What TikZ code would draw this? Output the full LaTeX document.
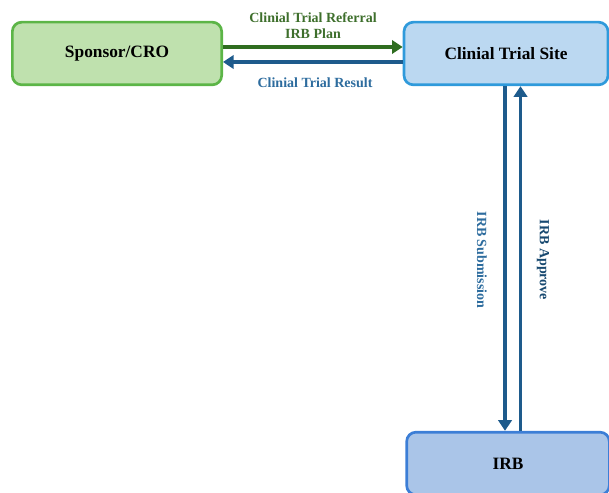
\documentclass[tikz,border=0pt]{standalone}
\usepackage{fontspec}
\setmainfont{Liberation Serif}
\usetikzlibrary{arrows.meta}
\definecolor{sponsorfill}{HTML}{BFE1AE}
\definecolor{sponsorline}{HTML}{5CB547}
\definecolor{sitefill}{HTML}{BBD8F1}
\definecolor{siteline}{HTML}{2F9ADB}
\definecolor{irbfill}{HTML}{AAC5E8}
\definecolor{irbline}{HTML}{3C7ED6}
\definecolor{greenarrow}{HTML}{2F6D20}
\definecolor{bluearrow}{HTML}{1E5B8C}
\definecolor{greenlabel}{HTML}{3E6F2C}
\definecolor{bluelabel}{HTML}{2D6C9E}
\tikzset{
    box/.style={draw,line width=2pt,rounded corners=7pt,inner sep=0pt,minimum height=47pt,font=\fontsize{13}{15}\selectfont\bfseries},
    flow/.style={line width=2.8pt,-{Triangle[length=8pt,width=10pt]}},
    lbl/.style={font=\fontsize{10.5}{12}\selectfont\bfseries}
}
\begin{document}
\begin{tikzpicture}[x=0.75pt,y=0.75pt]
        \useasboundingbox (0,0) rectangle (609,492);
        % boxes
        \node[box,fill=sponsorfill,draw=sponsorline,minimum width=157pt] (sponsor) at (117,438.5) {Sponsor/CRO};
        \node[box,fill=sitefill,draw=siteline,minimum width=153pt] (site) at (506,438.5) {Clinial Trial Site};
        \node[box,fill=irbfill,draw=irbline,minimum width=152pt] (irb) at (508,28.5) {IRB};
        % arrows
        \draw[flow,greenarrow] (sponsor.east|-0,445) -- (site.west|-0,445);
        \draw[flow,bluearrow] (site.west|-0,430) -- (sponsor.east|-0,430);
        \draw[flow,bluearrow] (site.south-|505,0) -- (irb.north-|505,0);
        \draw[flow,bluearrow] (irb.north-|520.5,0) -- (site.south-|520.5,0);
        % labels
        \node[lbl,greenlabel,align=center] (referral) at (313,466) {Clinial Trial Referral\\IRB Plan};
        \node[lbl,bluelabel] (result) at (315,409) {Clinial Trial Result};
        \node[lbl,bluelabel,rotate=-90] (submission) at (482,232) {IRB Submission};
        \node[lbl,bluearrow!80!black,rotate=-90] (approve) at (543,232) {IRB Approve};
\end{tikzpicture}
\end{document}
